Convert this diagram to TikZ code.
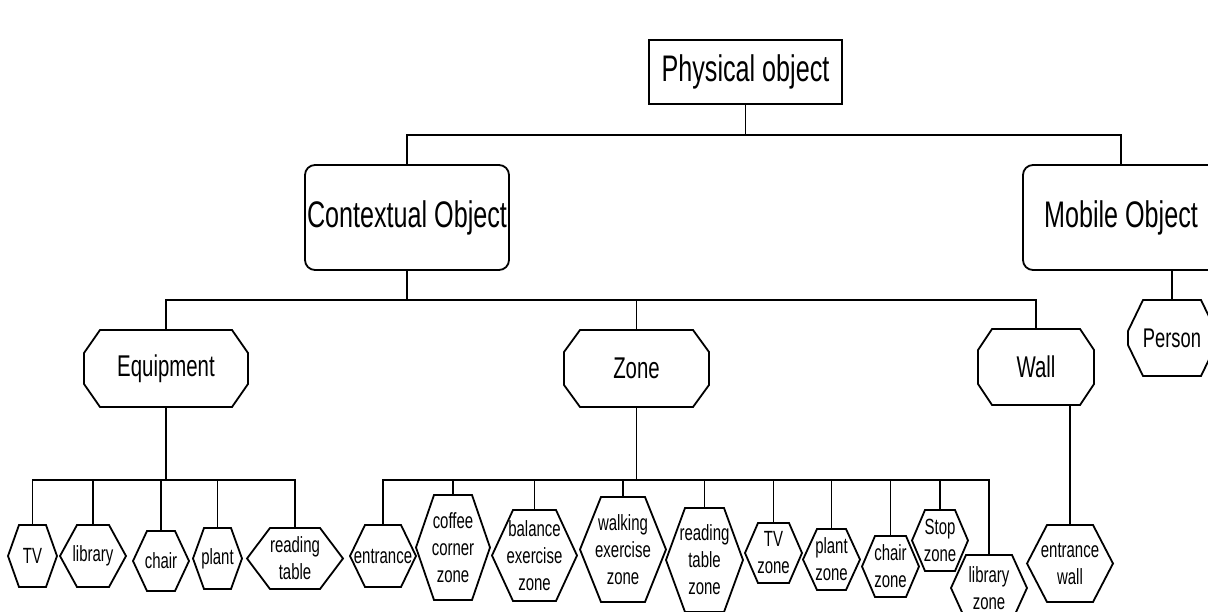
\documentclass[tikz,border=0pt]{standalone}
\usepackage{fontspec}
\setmainfont{Liberation Sans}[FakeStretch=0.68]
\begin{document}
\begin{tikzpicture}[x=1pt, y=1pt, line width=1.8pt, line join=miter,
	topbox/.style 2 args={draw, minimum width=#1pt, minimum height=#2pt, inner sep=0pt, outer sep=0pt, font=\fontsize{37}{40}\selectfont},
	roundbox/.style 2 args={topbox={#1}{#2}, rounded corners=10pt},
	octa/.style 2 args={minimum width=#1pt, minimum height=#2pt, inner sep=0pt, outer sep=0pt, font=\fontsize{30}{34}\selectfont},
	hexa/.style 2 args={minimum width=#1pt, minimum height=#2pt, inner sep=0pt, outer sep=0pt, align=center, font=\fontsize{22}{27}\selectfont}]
	\useasboundingbox (0,0) rectangle (1208,611);
	\clip (0,0) rectangle (1208,611);
	% levels
	\node[topbox={193}{64}] (phys) at (745.5,539) {Physical object};
	\node[roundbox={204}{105}] (ctx) at (407,393.5) {Contextual Object};
	\node[roundbox={196}{105}] (mob) at (1121,393.5) {Mobile Object};
	\node[octa={164}{77}] (equip) at (166,242.5) {Equipment};
	\node[octa={145}{77}] (zone) at (636.5,242.5) {Zone};
	\node[octa={116}{76}] (wall) at (1036,244) {Wall};
	\node[octa={88}{76}, font=\fontsize{27}{30}\selectfont] (person) at (1172,273) {Person};
	% equipment
	\node[hexa={49}{62}] (tv) at (32.5,55) {TV};
	\node[hexa={66}{62}] (lib) at (93,55) {library};
	\node[hexa={56}{60}] (chair) at (161,50) {chair};
	\node[hexa={49}{61}] (plant) at (217.5,52.5) {plant};
	\node[hexa={96}{61}] (rtab) at (295,52.5) {reading\\table};
	% zones
	\node[hexa={66}{62}] (ent) at (383,55) {entrance};
	\node[hexa={74}{105}] (coffee) at (453,63.5) {coffee\\corner\\zone};
	\node[hexa={85}{91}] (bal) at (534.5,55.5) {balance\\exercise\\zone};
	\node[hexa={86}{105}] (walk) at (623,61.5) {walking\\exercise\\zone};
	\node[hexa={77}{104}] (rtz) at (704.5,51) {reading\\table\\zone};
	\node[hexa={57}{60}] (tvz) at (773.5,58) {TV\\zone};
	\node[hexa={57}{61}] (plz) at (831.5,51.5) {plant\\zone};
	\node[hexa={57}{61}] (chz) at (890.5,44.5) {chair\\zone};
	\node[hexa={56}{61}] (stopz) at (940,70.5) {Stop\\zone};
	\node[hexa={76}{66}] (libz) at (989,23) {library\\zone};
	\node[hexa={86}{77}] (ew) at (1070,47.5) {entrance\\wall};
	% outlines
	\foreach \n/\cx/\cy in {equip/16/23, zone/16/22, wall/14/21, person/15/31}
		\draw ([xshift=\cx]\n.north west) -- ([xshift=-\cx]\n.north east) -- ([yshift=-\cy]\n.north east) -- ([yshift=\cy]\n.south east)
			-- ([xshift=-\cx]\n.south east) -- ([xshift=\cx]\n.south west) -- ([yshift=\cy]\n.south west) -- ([yshift=-\cy]\n.north west) -- cycle;
	\foreach \n/\cx in {tv/11, lib/17, chair/14, plant/11, rtab/23, ent/15, coffee/18, bal/21, walk/21, rtz/19, tvz/13, plz/14, chz/13, stopz/13, libz/15, ew/20}
		\draw ([xshift=\cx]\n.north west) -- ([xshift=-\cx]\n.north east) -- (\n.east) -- ([xshift=-\cx]\n.south east) -- ([xshift=\cx]\n.south west) -- (\n.west) -- cycle;
	% connectors
	\coordinate (bus1) at (0,476);
	\coordinate (bus2) at (0,311);
	\coordinate (bus3) at (0,131);
	\draw (phys.south) -- (phys.south |- bus1);
	\draw (ctx.north) |- (bus1 -| mob.north) -- (mob.north);
	\draw (ctx.south) -- (ctx.south |- bus2);
	\draw (equip.north) |- (bus2 -| wall.north) -- (wall.north);
	\draw (zone.north) -- (zone.north |- bus2);
	\draw (person.north) -- (person.north |- mob.south);
	\draw (equip.south) -- (equip.south |- bus3);
	\draw (tv.north) |- (bus3 -| rtab.north) -- (rtab.north);
	\foreach \c in {lib, chair, plant} \draw (\c.north) -- (\c.north |- bus3);
	\draw (zone.south) -- (zone.south |- bus3);
	\draw (ent.north) |- (bus3 -| libz.north) -- (libz.north);
	\foreach \c in {coffee, bal, walk, rtz, tvz, plz, chz, stopz} \draw (\c.north) -- (\c.north |- bus3);
	\draw (ew.north) -- (ew.north |- wall.south);
\end{tikzpicture}
\end{document}
